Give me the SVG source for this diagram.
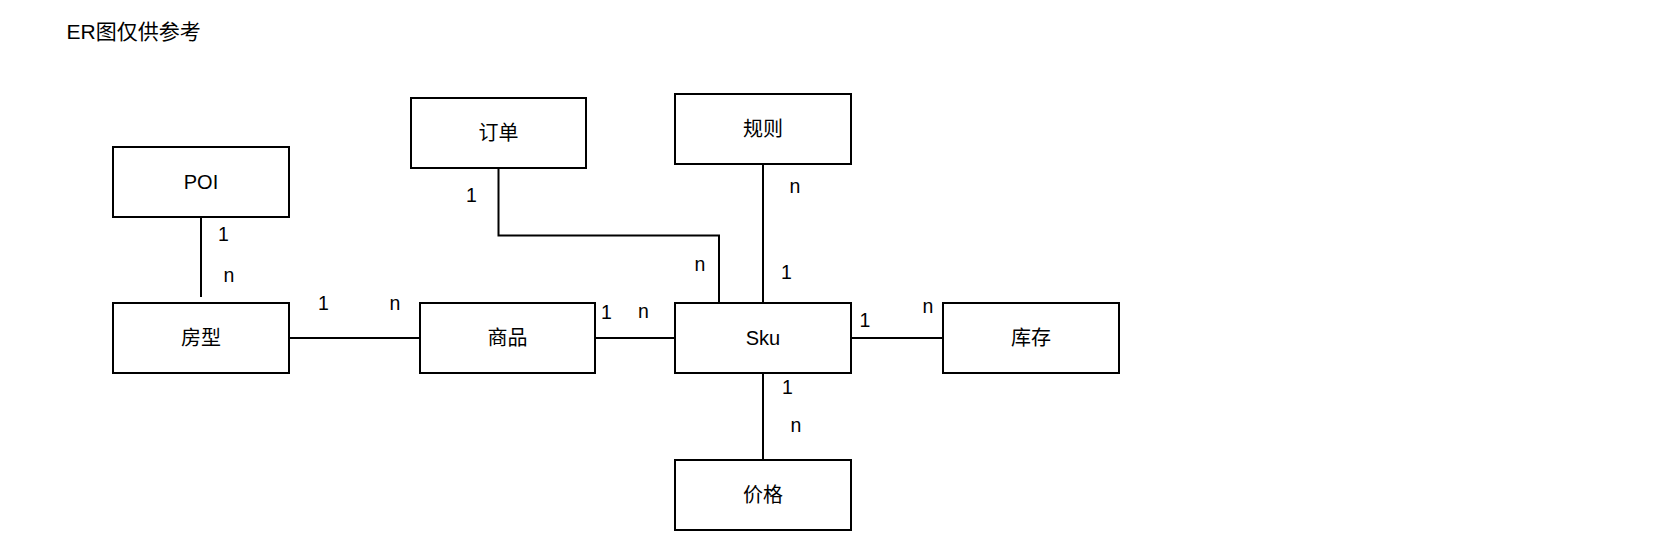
<svg xmlns="http://www.w3.org/2000/svg" width="1680" height="536" viewBox="0 0 1680 536">
  <style>
    text { font-family: "Liberation Sans", Arial, "Noto Sans CJK SC", sans-serif; fill: #000; }
    .title { font-size: 21px; }
    .box { fill: #fff; stroke: #000; stroke-width: 2; }
    .lbl { font-size: 20px; text-anchor: middle; }
    .card { font-size: 19.5px; text-anchor: middle; }
    .conn { fill: none; stroke: #000; stroke-width: 2; }
  </style>
  <rect width="1680" height="536" fill="#fff"/>
  <text class="title" x="66.5" y="38.5">ER图仅供参考</text>

  <g id="connectors">
    <path class="conn" d="M201,217 V297"/>
    <path class="conn" d="M289,338 H420"/>
    <path class="conn" d="M498.5,168 V235.5 H719 V303"/>
    <path class="conn" d="M595,338 H675"/>
    <path class="conn" d="M763,164 V303"/>
    <path class="conn" d="M851,338 H943"/>
    <path class="conn" d="M763,373 V460"/>
    <text class="card" x="223.5" y="240.5">1</text>
    <text class="card" x="229" y="281.5">n</text>
    <text class="card" x="323.5" y="310">1</text>
    <text class="card" x="395" y="310">n</text>
    <text class="card" x="471.5" y="201.5">1</text>
    <text class="card" x="700" y="271">n</text>
    <text class="card" x="606.5" y="318.5">1</text>
    <text class="card" x="643.5" y="318">n</text>
    <text class="card" x="795" y="192.5">n</text>
    <text class="card" x="786.5" y="279">1</text>
    <text class="card" x="865" y="326.5">1</text>
    <text class="card" x="928" y="313">n</text>
    <text class="card" x="787.5" y="394">1</text>
    <text class="card" x="796" y="431.5">n</text>
  </g>

  <g id="node-poi">
    <rect class="box" x="113" y="147" width="176" height="70"/>
    <text class="lbl" x="201" y="189">POI</text>
  </g>
  <g id="node-fangxing">
    <rect class="box" x="113" y="303" width="176" height="70"/>
    <text class="lbl" x="201" y="345">房型</text>
  </g>
  <g id="node-dingdan">
    <rect class="box" x="411" y="98" width="175" height="70"/>
    <text class="lbl" x="498.5" y="140">订单</text>
  </g>
  <g id="node-shangpin">
    <rect class="box" x="420" y="303" width="175" height="70"/>
    <text class="lbl" x="507.5" y="345">商品</text>
  </g>
  <g id="node-guize">
    <rect class="box" x="675" y="94" width="176" height="70"/>
    <text class="lbl" x="763" y="136">规则</text>
  </g>
  <g id="node-sku">
    <rect class="box" x="675" y="303" width="176" height="70"/>
    <text class="lbl" x="763" y="345">Sku</text>
  </g>
  <g id="node-kucun">
    <rect class="box" x="943" y="303" width="176" height="70"/>
    <text class="lbl" x="1031" y="345">库存</text>
  </g>
  <g id="node-jiage">
    <rect class="box" x="675" y="460" width="176" height="70"/>
    <text class="lbl" x="763" y="502">价格</text>
  </g>
</svg>
